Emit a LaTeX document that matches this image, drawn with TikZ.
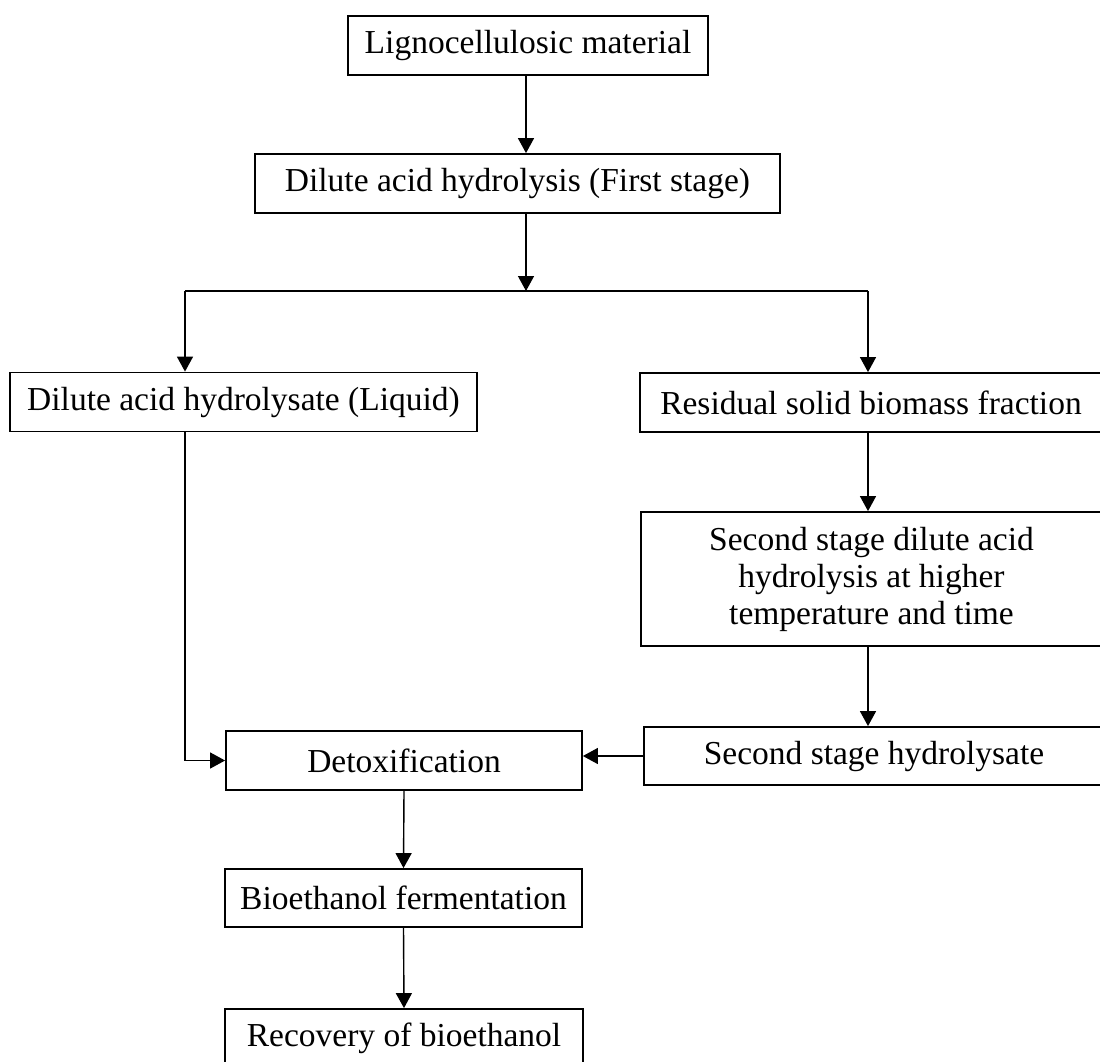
\documentclass[tikz,border=0pt]{standalone}
\usepackage{fontspec}
\setmainfont{Liberation Serif}
\usetikzlibrary{arrows.meta}
\begin{document}
\begin{tikzpicture}[x=1pt,y=-1pt,
  box/.style={draw, line width=1.8pt, inner sep=0pt, align=center,
    font=\fontsize{33.5}{37}\selectfont},
  arr/.style={line width=1.4pt, -{Triangle[length=15pt,width=16pt]}},
  ln/.style={line width=1.4pt}]
\useasboundingbox (0,0) rectangle (1100,1061);
\clip (0,0) rectangle (1100,1061);
\fill[white] (0,0) rectangle (1100,1061);

\node[box, minimum width=360pt, minimum height=59pt] (lig) at (528,45.5) {Lignocellulosic material};
\node[box, minimum width=525pt, minimum height=59pt] (dil) at (517.5,183.5) {Dilute acid hydrolysis (First stage)};
\node[box, minimum width=467pt, minimum height=59pt] (liq) at (243.5,402) {Dilute acid hydrolysate (Liquid)};
\node[box, minimum width=462pt, minimum height=59pt] (res) at (871,402.5) {Residual solid biomass fraction};
\node[box, minimum width=461pt, minimum height=134pt] (sec) at (871.5,579) {Second stage dilute acid\\hydrolysis at higher\\temperature and time};
\node[box, minimum width=460pt, minimum height=58pt] (shy) at (874,756) {Second stage hydrolysate};
\node[box, minimum width=356pt, minimum height=59pt] (det) at (404,760.5) {Detoxification};
\node[box, minimum width=357pt, minimum height=58pt] (bio) at (403.5,898) {Bioethanol fermentation};
\node[box, minimum width=358pt, minimum height=58pt] (rec) at (404,1038) {Recovery of bioethanol};

\coordinate (jl) at (185,291);
\coordinate (jm) at (526,291);
\coordinate (jr) at (868,291);

\draw[arr] (lig.south -| jm) -- (jm |- dil.north);
\draw[arr] (jm |- dil.south) -- (jm);
\draw[ln] (jl) -- (jr);
\draw[arr] (jl) -- (jl |- liq.north);
\draw[arr] (jr) -- (jr |- res.north);
\draw[arr] (jr |- res.south) -- (jr |- sec.north);
\draw[arr] (jr |- sec.south) -- (jr |- shy.north);
\draw[arr] (jl |- liq.south) |- (det.west);
\draw[arr] (shy.west) -- (shy.west -| det.east);
\draw[arr] (det.south) -- (bio.north);
\draw[arr] (bio.south) -- (rec.north);
\end{tikzpicture}
\end{document}
